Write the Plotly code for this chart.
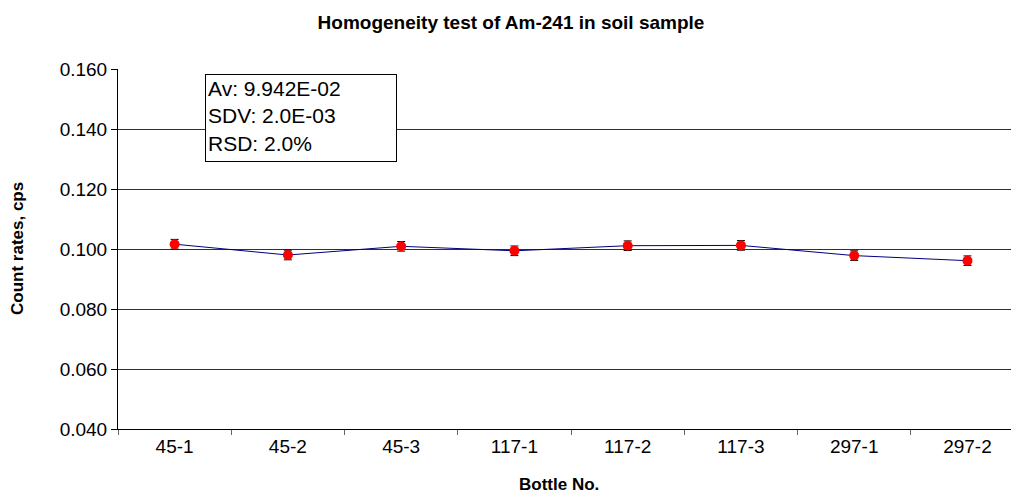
import plotly.graph_objects as go

bottles = ["45-1", "45-2", "45-3", "117-1", "117-2", "117-3", "297-1", "297-2"]
count_rates = [0.1016, 0.0980, 0.1009, 0.0994, 0.1011, 0.1012, 0.0978, 0.0961]
errors = [0.0016, 0.0016, 0.0016, 0.0016, 0.0016, 0.0016, 0.0016, 0.0016]
stats_lines = ["Av: 9.942E-02", "SDV: 2.0E-03", "RSD: 2.0%"]

font = "Liberation Sans, Arial, sans-serif"

# page body has an 8px margin, so the figure is shifted to compensate
W, H = 1011, 491

fig = go.Figure(go.Scatter(
    x=bottles, y=count_rates,
    mode="lines+markers",
    line=dict(color="#000080", width=1),
    marker=dict(color="#ff0000", size=10),
    error_y=dict(type="data", array=errors, color="black", thickness=1, width=4),
))

fig.update_layout(
    width=W, height=H,
    margin=dict(l=110, r=0, t=61, b=70),
    plot_bgcolor="white", paper_bgcolor="white",
    showlegend=False,
    font=dict(family=font, color="black"),
    title=dict(text="<b>Homogeneity test of Am-241 in soil sample</b>",
               x=(511 - 8) / W, xanchor="center", y=1 - 14 / H, yanchor="middle",
               font=dict(size=19, family=font)),
    xaxis=dict(
        type="category", range=[-0.5, 7.455],
        showline=True, linecolor="black", linewidth=1,
        ticks="outside", tickson="boundaries", ticklen=5, tickcolor="#666",
        tickfont=dict(size=19), showgrid=False,
    ),
    yaxis=dict(
        range=[0.04, 0.16], dtick=0.02, tickformat=".3f",
        showline=True, linecolor="black", linewidth=1,
        ticks="outside", ticklen=6, tickcolor="black",
        tickfont=dict(size=19),
        showgrid=True, gridcolor="#303030", gridwidth=1,
        zeroline=False,
    ),
    annotations=[
        dict(text="<b>Count rates, cps</b>", xref="paper", yref="paper",
             x=(17 - 118) / 901, y=0.5, xanchor="center", yanchor="middle",
             textangle=-90, showarrow=False, font=dict(size=17)),
        dict(text="<b>Bottle No.</b>", xref="paper", yref="paper",
             x=(559 - 118) / 901, y=(429 - 485) / 360, xanchor="center", yanchor="middle",
             showarrow=False, font=dict(size=17)),
        dict(text="<br>".join(stats_lines), xref="paper", yref="paper",
             x=(205 - 118) / 901, y=(429 - 74) / 360, xanchor="left", yanchor="top",
             align="left", valign="top", showarrow=False,
             width=186, height=82, borderpad=2,
             bordercolor="black", borderwidth=1, bgcolor="white",
             font=dict(size=21)),
    ],
)

fig.write_html("out.html")
